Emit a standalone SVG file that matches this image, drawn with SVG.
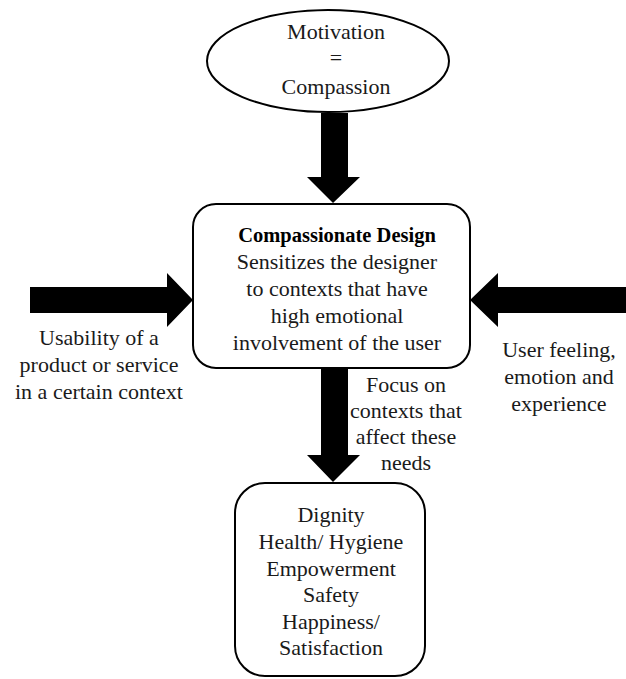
<svg xmlns="http://www.w3.org/2000/svg" width="626" height="679" viewBox="0 0 626 679">
<style>
.shape{fill:#fff;stroke:#000;stroke-width:2}
.t{font-family:"Liberation Serif","Times New Roman",serif;font-size:22px;fill:#1a1a1a;text-anchor:middle}
.b{font-weight:bold;font-size:20.5px;fill:#000}
.arr{fill:#000;stroke:none}
</style>
<rect width="626" height="679" fill="#fff"/>
<g id="connectors">
<polygon class="arr" points="321,113 348,113 348,177 360,177 333,203 307,177 321,177"/>
<polygon class="arr" points="30,287 167,287 167,273 193,300 167,327 167,313 30,313"/>
<polygon class="arr" points="626,287 498,287 498,273 470,300 498,327 498,313 626,313"/>
<polygon class="arr" points="321,368 348,368 348,455 360,455 333,482 307,455 321,455"/>
</g>
<g id="motivation">
<ellipse class="shape" cx="328" cy="61" rx="121" ry="51"/>
<text class="t" x="336" y="39">Motivation</text>
<text class="t" x="336" y="65">=</text>
<text class="t" x="336" y="94">Compassion</text>
</g>
<g id="compassionate-design">
<rect class="shape" x="193" y="204" width="277" height="164" rx="23"/>
<text class="t b" x="337" y="242">Compassionate Design</text>
<text class="t" x="337" y="269">Sensitizes the designer</text>
<text class="t" x="337" y="296">to contexts that have</text>
<text class="t" x="337" y="323">high emotional</text>
<text class="t" x="337" y="350">involvement of the user</text>
</g>
<g id="usability">
<text class="t" x="99" y="345">Usability of a</text>
<text class="t" x="99" y="372">product or service</text>
<text class="t" x="99" y="399">in a certain context</text>
</g>
<g id="user-feeling">
<text class="t" x="559" y="357">User feeling,</text>
<text class="t" x="559" y="384">emotion and</text>
<text class="t" x="559" y="411">experience</text>
</g>
<g id="focus-label">
<text class="t" x="406" y="392">Focus on</text>
<text class="t" x="406" y="418">contexts that</text>
<text class="t" x="406" y="444">affect these</text>
<text class="t" x="406" y="470">needs</text>
</g>
<g id="needs">
<rect class="shape" x="235" y="483" width="190" height="193" rx="30"/>
<text class="t" x="331" y="522">Dignity</text>
<text class="t" x="331" y="549">Health/ Hygiene</text>
<text class="t" x="331" y="576">Empowerment</text>
<text class="t" x="331" y="602">Safety</text>
<text class="t" x="331" y="629">Happiness/</text>
<text class="t" x="331" y="655">Satisfaction</text>
</g>
</svg>
